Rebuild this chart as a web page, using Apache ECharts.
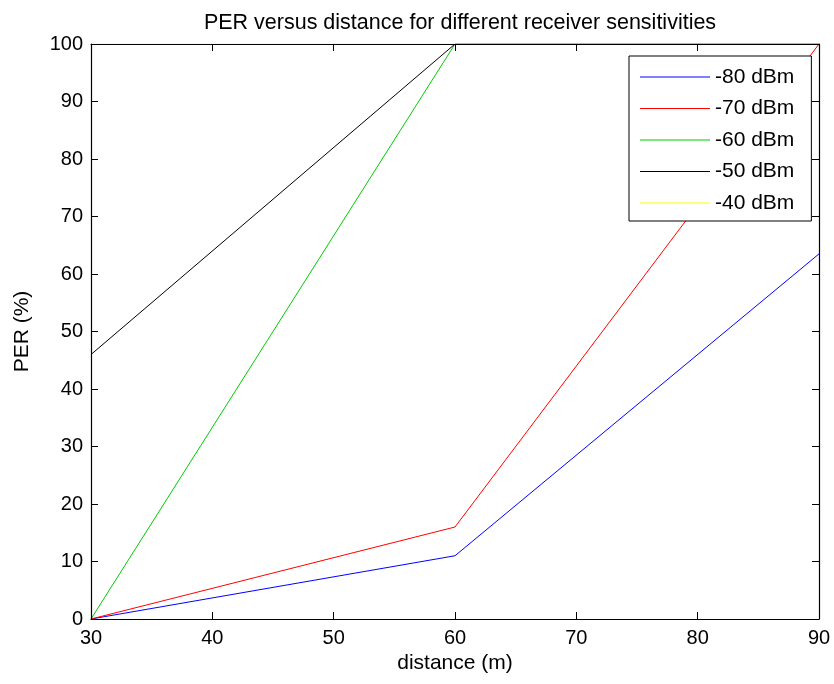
<!DOCTYPE html>
<html>
<head>
<meta charset="utf-8">
<script src="https://cdn.jsdelivr.net/npm/echarts@6/dist/echarts.min.js"></script>
<style>
  html, body { margin: 0; padding: 0; background: #fff; }
  #chart { width: 834px; height: 684px; }
</style>
</head>
<body>
<div id="chart"></div>
<script>
// Distance samples (m)
const distances = [30, 60, 90];

// Packet error rate (%) per receiver sensitivity
const seriesNames = ['-80 dBm', '-70 dBm', '-60 dBm', '-50 dBm', '-40 dBm'];
const per80 = [0, 11, 63.5];
const per70 = [0, 16, 100];
const per60 = [0, 100, 100];
const per50 = [46, 100, 100];
const per40 = [100, 100, 100];

const seriesColors = ['#0000ff', '#ff0000', '#00cc00', '#000000', '#ffff00'];
const perValues = [per80, per70, per60, per50, per40];

const FONT = 'Liberation Sans, Arial, sans-serif';
const LINE_ICON = 'path://M0,0L70,0L70,1L0,1Z';

const chart = echarts.init(document.getElementById('chart'), null, { renderer: 'canvas' });

// Shared style for the four sides of the plot box (drawn above the data lines)
const boxAxis = {
  z: 5,
  axisLine: { show: true, onZero: false, lineStyle: { color: '#000', width: 1.2 } },
  axisTick: { show: true, inside: true, length: 7, lineStyle: { color: '#000', width: 1 } },
  splitLine: { show: false }
};

const option = {
  backgroundColor: '#ffffff',
  animation: false,
  title: {
    text: 'PER versus distance for different receiver sensitivities',
    left: 455,
    textAlign: 'center',
    top: 7,
    textStyle: { fontFamily: FONT, fontSize: 21.5, fontWeight: 'normal', color: '#000' }
  },
  grid: { left: 91, top: 44, width: 728, height: 575 },
  legend: {
    data: seriesNames.map(n => ({ name: n, icon: LINE_ICON })),
    orient: 'vertical',
    left: 629,
    top: 56,
    padding: [10.5, 17, 7.5, 11],
    itemWidth: 70,
    itemHeight: 21,
    itemGap: 10.5,
    backgroundColor: '#fff',
    borderColor: '#000',
    borderWidth: 1,
    z: 10,
    textStyle: { fontFamily: FONT, fontSize: 21, color: '#000' }
  },
  xAxis: [
    Object.assign({}, boxAxis, {
      type: 'value', position: 'bottom', min: 30, max: 90, interval: 10,
      name: 'distance (m)', nameLocation: 'middle', nameGap: 33,
      nameTextStyle: { fontFamily: FONT, fontSize: 21, color: '#000' },
      axisLabel: { fontFamily: FONT, fontSize: 20, color: '#000', margin: 9 }
    }),
    Object.assign({}, boxAxis, {
      type: 'value', position: 'top', min: 30, max: 90, interval: 10,
      axisLabel: { show: false }
    })
  ],
  yAxis: [
    Object.assign({}, boxAxis, {
      type: 'value', position: 'left', min: 0, max: 100, interval: 10,
      name: 'PER (%)', nameLocation: 'middle', nameGap: 58,
      nameTextStyle: { fontFamily: FONT, fontSize: 21, color: '#000' },
      axisLabel: { fontFamily: FONT, fontSize: 20, color: '#000', margin: 8 }
    }),
    Object.assign({}, boxAxis, {
      type: 'value', position: 'right', min: 0, max: 100, interval: 10,
      axisLabel: { show: false }
    })
  ],
  series: seriesNames.map((name, i) => ({
    name: name,
    type: 'line',
    xAxisIndex: 0,
    yAxisIndex: 0,
    symbol: 'none',
    z: 2,
    lineStyle: { color: seriesColors[i], width: 1 },
    itemStyle: { color: seriesColors[i] },
    data: distances.map((d, j) => [d, perValues[i][j]])
  }))
};

chart.setOption(option);
</script>
</body>
</html>
